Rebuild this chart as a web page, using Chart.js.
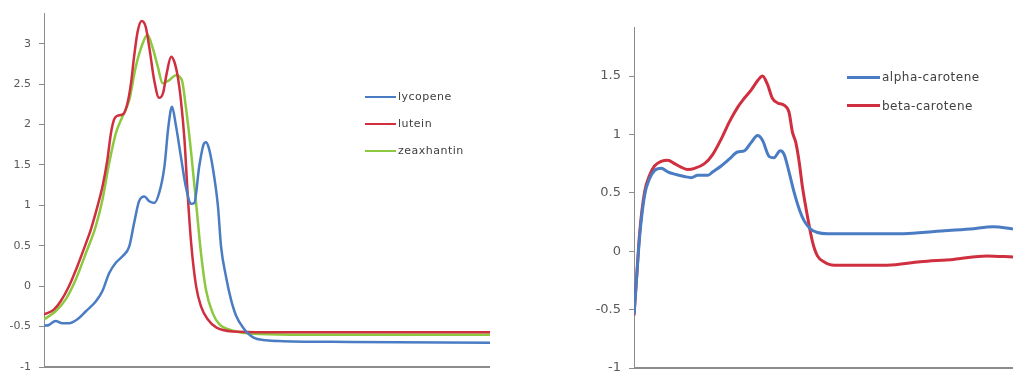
<!DOCTYPE html>
<html>
<head>
<meta charset="utf-8">
<script src="https://cdn.jsdelivr.net/npm/chart.js@4/dist/chart.umd.min.js"></script>
<style>
  body { margin: 0; background: #fff; width: 1013px; height: 373px; overflow: hidden; position: relative; }
  canvas { position: absolute; top: 0; }
  #left { left: 0; }
  #right { left: 520px; }
  .legend { position: absolute; font-family: "DejaVu Sans", sans-serif; color: #404040; letter-spacing: 0.5px; }
  .legend .row { position: absolute; left: 0; white-space: nowrap; }
  .legend .swatch { position: absolute; left: 0; }
  .legend .label { position: absolute; }
</style>
</head>
<body>
<canvas id="left" width="520" height="373"></canvas>
<canvas id="right" width="493" height="373"></canvas>
<div class="legend" id="legendLeft"></div>
<div class="legend" id="legendRight"></div>
<script>
// left panel: lycopene / lutein / zeaxanthin (x = relative position along axis, 0..100)
const lycopeneX = [0, 1.1, 2.6, 4.1, 5.6, 7.5, 9.4, 11.6, 13.1, 14.6, 16.1, 17.6, 19.1, 20.2, 21.3, 22.5, 23.6, 24.7, 25.8, 27.0, 27.9, 28.7, 29.6, 30.7, 31.8, 33.0, 33.7, 34.8, 35.7, 36.3, 36.9, 37.8, 39.0, 39.7, 40.8, 41.9, 43.1, 44.6, 46.8, 49.8, 53.6, 68.5, 100];
const lycopeneY = [-0.49, -0.48, -0.43, -0.46, -0.46, -0.41, -0.31, -0.19, -0.06, 0.16, 0.29, 0.37, 0.49, 0.78, 1.05, 1.11, 1.05, 1.03, 1.15, 1.48, 1.98, 2.22, 1.98, 1.60, 1.23, 1.02, 1.03, 1.48, 1.74, 1.78, 1.72, 1.48, 0.99, 0.49, 0.12, -0.16, -0.37, -0.51, -0.63, -0.67, -0.68, -0.69, -0.70];

const luteinX = [0, 2.2, 3.7, 5.6, 7.5, 9.4, 10.5, 12.0, 13.1, 14.2, 15.0, 15.7, 16.5, 17.8, 18.7, 19.5, 20.2, 21.0, 21.9, 22.8, 23.7, 24.7, 25.8, 26.7, 27.5, 28.5, 29.2, 30.0, 30.7, 31.5, 32.2, 33.0, 34.1, 35.2, 36.7, 38.6, 42.3, 49.8, 55.1, 100];
const luteinY = [-0.35, -0.29, -0.19, 0.0, 0.25, 0.53, 0.70, 0.99, 1.23, 1.56, 1.89, 2.06, 2.11, 2.13, 2.26, 2.51, 2.84, 3.15, 3.28, 3.21, 2.92, 2.55, 2.33, 2.39, 2.63, 2.84, 2.78, 2.59, 2.30, 1.81, 1.15, 0.53, 0.0, -0.25, -0.41, -0.51, -0.56, -0.57, -0.57, -0.57];

const zeaxanthinX = [0, 2.6, 4.9, 7.1, 9.4, 11.6, 13.1, 14.6, 16.1, 17.6, 19.1, 20.6, 22.1, 23.2, 24.3, 25.5, 26.6, 28.1, 29.6, 30.9, 31.8, 33.0, 34.1, 35.2, 36.3, 37.8, 39.3, 42.3, 46.8, 55.1, 100];
const zeaxanthinY = [-0.41, -0.31, -0.16, 0.08, 0.41, 0.74, 1.07, 1.52, 1.89, 2.10, 2.30, 2.72, 3.00, 3.11, 2.96, 2.72, 2.51, 2.55, 2.61, 2.55, 2.22, 1.65, 1.03, 0.41, -0.04, -0.33, -0.47, -0.55, -0.59, -0.60, -0.60];

// right panel: alpha / beta carotene
const alphaX = [0, 0.6, 1.5, 2.8, 4.1, 5.4, 7.2, 8.9, 10.7, 13.3, 15.1, 16.8, 19.5, 20.8, 23.0, 25.2, 27.3, 29.1, 30.9, 32.6, 33.9, 35.7, 36.9, 38.6, 39.6, 40.9, 42.2, 43.6, 44.9, 46.6, 48.4, 51.0, 58.0, 71.2, 79.9, 88.7, 94.8, 100];
const alphaY = [-0.54, -0.27, 0.13, 0.48, 0.62, 0.69, 0.71, 0.68, 0.66, 0.64, 0.63, 0.65, 0.65, 0.68, 0.73, 0.79, 0.85, 0.86, 0.93, 0.99, 0.95, 0.81, 0.80, 0.86, 0.83, 0.68, 0.51, 0.36, 0.26, 0.19, 0.16, 0.15, 0.15, 0.15, 0.17, 0.19, 0.21, 0.19];

const betaX = [0, 0.6, 1.5, 2.8, 4.1, 5.4, 7.2, 8.9, 10.7, 12.4, 14.2, 16.0, 18.6, 20.8, 23.0, 25.2, 27.3, 29.1, 30.9, 32.6, 33.9, 35.2, 36.5, 37.9, 39.6, 40.9, 41.8, 42.7, 43.6, 44.4, 45.7, 47.1, 48.4, 50.1, 52.8, 58.0, 66.8, 75.5, 84.3, 93.1, 100];
const betaY = [-0.55, -0.27, 0.16, 0.51, 0.65, 0.73, 0.77, 0.78, 0.75, 0.72, 0.70, 0.71, 0.75, 0.83, 0.96, 1.11, 1.23, 1.31, 1.38, 1.46, 1.50, 1.43, 1.31, 1.27, 1.25, 1.19, 1.02, 0.93, 0.76, 0.56, 0.31, 0.08, -0.04, -0.09, -0.12, -0.12, -0.12, -0.09, -0.07, -0.04, -0.05];

const leftTicks = [-1, -0.5, 0, 0.5, 1, 1.5, 2, 2.5, 3];
const rightTicks = [-1, -0.5, 0, 0.5, 1, 1.5];

const leftNames = ["lycopene", "lutein", "zeaxhantin"];
const rightNames = ["alpha-carotene", "beta-carotene"];

const BLUE = "#4A7CC4";
const RED = "#CF2F3F";
const GREEN = "#8CC840";
const AXIS = "#8c8c8c";

// the bottom axis has no ticks, so draw its line by hand along the chart area
const bottomAxisLine = {
  id: "bottomAxisLine",
  afterDraw: function (chart) {
    var area = chart.chartArea;
    var ctx = chart.ctx;
    ctx.save();
    ctx.strokeStyle = AXIS;
    ctx.lineWidth = 2;
    ctx.beginPath();
    ctx.moveTo(area.left, area.bottom);
    ctx.lineTo(area.right, area.bottom);
    ctx.stroke();
    ctx.restore();
  },
};

function points(xs, ys) {
  return xs.map(function (x, i) {
    return { x: x, y: ys[i] };
  });
}

function lineSet(label, xs, ys, color, width) {
  return {
    label: label,
    data: points(xs, ys),
    borderColor: color,
    backgroundColor: color,
    borderWidth: width,
    pointRadius: 0,
    fill: false,
    cubicInterpolationMode: "monotone",
  };
}

function makeChart(id, datasets, ticks, yMax, yWidth, fontSize, padding) {
  return new Chart(document.getElementById(id), {
    type: "line",
    data: { datasets: datasets },
    plugins: [bottomAxisLine],
    options: {
      responsive: false,
      animation: false,
      layout: { padding: padding },
      plugins: { legend: { display: false }, tooltip: { enabled: false } },
      scales: {
        x: {
          type: "linear",
          min: 0,
          max: 100,
          ticks: { display: false },
          grid: { display: false },
          border: { display: false },
          afterFit: function (scale) {
            scale.height = 1;
          },
        },
        y: {
          min: -1,
          max: yMax,
          afterBuildTicks: function (scale) {
            scale.ticks = ticks.map(function (v) {
              return { value: v };
            });
          },
          afterFit: function (scale) {
            scale.width = yWidth;
            // keep the label padding from shrinking the plot area
            scale.paddingTop = 0;
            scale.paddingBottom = 0;
          },
          ticks: {
            color: "#595959",
            padding: 8,
            font: { family: "'DejaVu Sans', sans-serif", size: fontSize },
            callback: function (v) {
              return String(v);
            },
          },
          grid: { drawOnChartArea: false, drawTicks: true, tickLength: 5, color: AXIS },
          border: { display: true, color: AXIS, width: 1 },
        },
      },
    },
  });
}

function makeLegend(id, names, colors, pos) {
  var box = document.getElementById(id);
  box.style.left = pos.left + "px";
  box.style.top = pos.top + "px";
  box.style.fontSize = pos.fontSize + "px";
  names.forEach(function (name, i) {
    var row = document.createElement("div");
    row.className = "row";
    row.style.top = i * pos.gap + "px";
    var sw = document.createElement("div");
    sw.className = "swatch";
    sw.style.width = pos.lineLen + "px";
    sw.style.height = pos.lineW + "px";
    sw.style.top = -pos.lineW / 2 + "px";
    sw.style.background = colors[i];
    var lb = document.createElement("div");
    lb.className = "label";
    lb.style.left = pos.lineLen + 2 + "px";
    lb.style.top = -Math.round(pos.fontSize * 0.62) + "px";
    lb.innerText = name;
    row.appendChild(sw);
    row.appendChild(lb);
    box.appendChild(row);
  });
}

makeChart(
  "left",
  [
    lineSet(leftNames[0], lycopeneX, lycopeneY, BLUE, 2.5),
    lineSet(leftNames[1], luteinX, luteinY, RED, 2.5),
    lineSet(leftNames[2], zeaxanthinX, zeaxanthinY, GREEN, 2.5),
  ],
  leftTicks, 3.38, 44, 11,
  { left: 0, top: 13, right: 30, bottom: 5 }
);

makeChart(
  "right",
  [
    lineSet(rightNames[0], alphaX, alphaY, BLUE, 3),
    lineSet(rightNames[1], betaX, betaY, RED, 3),
  ],
  rightTicks, 1.92, 114, 13,
  { left: 0, top: 27, right: 0, bottom: 4 }
);

makeLegend("legendLeft", leftNames, [BLUE, RED, GREEN], { left: 365, top: 97, gap: 27, lineLen: 31, lineW: 2.5, fontSize: 11 });
makeLegend("legendRight", rightNames, [BLUE, RED], { left: 847, top: 77, gap: 28.5, lineLen: 33, lineW: 3, fontSize: 12 });
</script>
</body>
</html>
